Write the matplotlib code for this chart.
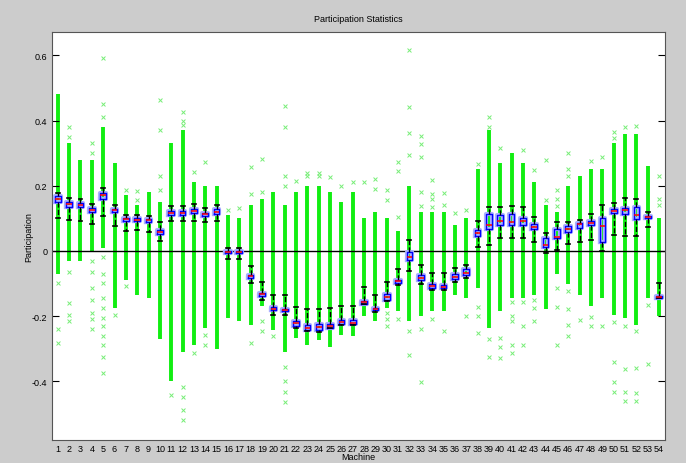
import numpy as np
import matplotlib
matplotlib.use("Agg")
import matplotlib.pyplot as plt
import matplotlib.patheffects as pe

plt.rcParams['font.family'] = ['Liberation Sans', 'DejaVu Sans']

machines = list(range(1, 55))

# box statistics per machine
medians = [0.158, 0.144, 0.142, 0.126, 0.171, 0.125, 0.097, 0.096, 0.094, 0.057,
           0.116, 0.116, 0.123, 0.113, 0.120, -0.004, -0.004, -0.078, -0.133, -0.178,
           -0.181, -0.222, -0.237, -0.234, -0.230, -0.219, -0.220, -0.158, -0.178, -0.141,
           -0.093, -0.018, -0.082, -0.108, -0.110, -0.080, -0.069, 0.055, 0.079, 0.091,
           0.088, 0.091, 0.074, 0.019, 0.044, 0.068, 0.082, 0.086, 0.077, 0.123,
           0.126, 0.109, 0.104, -0.142]
q1 = [0.149, 0.136, 0.134, 0.119, 0.160, 0.119, 0.091, 0.091, 0.089, 0.052,
      0.110, 0.110, 0.115, 0.108, 0.113, -0.008, -0.008, -0.083, -0.138, -0.183,
      -0.186, -0.230, -0.244, -0.242, -0.237, -0.224, -0.225, -0.162, -0.181, -0.150,
      -0.100, -0.028, -0.090, -0.113, -0.114, -0.085, -0.075, 0.045, 0.066, 0.079,
      0.079, 0.080, 0.067, 0.012, 0.039, 0.059, 0.071, 0.079, 0.028, 0.115,
      0.113, 0.097, 0.100, -0.145]
q3 = [0.167, 0.150, 0.148, 0.132, 0.178, 0.130, 0.101, 0.100, 0.099, 0.064,
      0.123, 0.123, 0.129, 0.117, 0.127, 0.001, 0.001, -0.073, -0.128, -0.173,
      -0.177, -0.214, -0.227, -0.225, -0.223, -0.212, -0.213, -0.153, -0.174, -0.132,
      -0.088, -0.003, -0.073, -0.103, -0.104, -0.070, -0.057, 0.064, 0.113, 0.111,
      0.113, 0.101, 0.082, 0.039, 0.067, 0.075, 0.086, 0.091, 0.100, 0.129,
      0.132, 0.134, 0.107, -0.139]
whisk_lo = [0.101, 0.095, 0.091, 0.082, 0.107, 0.077, 0.062, 0.064, 0.057, 0.029,
            0.092, 0.092, 0.091, 0.088, 0.091, -0.025, -0.026, -0.098, -0.150, -0.198,
            -0.198, -0.237, -0.247, -0.249, -0.237, -0.229, -0.229, -0.163, -0.188, -0.155,
            -0.105, -0.062, -0.103, -0.119, -0.121, -0.095, -0.082, 0.012, 0.018, 0.039,
            0.039, 0.039, 0.028, -0.008, 0.002, 0.021, 0.028, 0.033, 0.000, 0.049,
            0.045, 0.045, 0.072, -0.145]
whisk_hi = [0.178, 0.163, 0.160, 0.144, 0.194, 0.142, 0.111, 0.111, 0.108, 0.088,
            0.137, 0.137, 0.144, 0.132, 0.142, 0.008, 0.010, -0.047, -0.095, -0.134,
            -0.137, -0.171, -0.180, -0.177, -0.176, -0.168, -0.168, -0.111, -0.134, -0.096,
            -0.057, 0.033, -0.044, -0.069, -0.069, -0.052, -0.044, 0.091, 0.136, 0.136,
            0.139, 0.136, 0.105, 0.056, 0.088, 0.090, 0.096, 0.113, 0.142, 0.148,
            0.163, 0.158, 0.119, -0.100]

# dense band of green sample markers (top, bottom)
band_hi = [0.48, 0.33, 0.28, 0.28, 0.38, 0.27, 0.17, 0.14, 0.18, 0.15,
           0.33, 0.37, 0.21, 0.20, 0.20, 0.11, 0.10, 0.14, 0.16, 0.18,
           0.14, 0.18, 0.20, 0.20, 0.18, 0.15, 0.18, 0.10, 0.12, 0.10,
           0.06, 0.20, 0.12, 0.12, 0.12, 0.08, 0.10, 0.25, 0.37, 0.27,
           0.30, 0.27, 0.21, 0.14, 0.12, 0.20, 0.23, 0.25, 0.25, 0.33,
           0.36, 0.36, 0.26, 0.10]
band_lo = [-0.07, -0.03, -0.03, 0.00, 0.01, -0.175, -0.088, -0.134, -0.144, -0.27,
           -0.40, -0.31, -0.29, -0.237, -0.30, -0.206, -0.216, -0.227, -0.17, -0.242,
           -0.31, -0.268, -0.289, -0.273, -0.294, -0.258, -0.26, -0.20, -0.216, -0.175,
           -0.186, -0.216, -0.20, -0.186, -0.186, -0.134, -0.144, -0.113, -0.237, -0.186,
           -0.144, -0.144, -0.134, -0.177, -0.072, -0.103, -0.134, -0.17, -0.144, -0.196,
           -0.206, -0.227, -0.144, -0.20]

# scattered green markers outside the dense band
sparse = {
    1: [-0.098, -0.24, -0.283],
    2: [0.379, 0.35, -0.064, -0.16, -0.196, -0.216],
    4: [0.33, 0.30, -0.03, -0.064, -0.113, -0.152, -0.19, -0.21, -0.24],
    5: [0.593, 0.45, 0.41, -0.02, -0.07, -0.10, -0.144, -0.175, -0.206, -0.23,
        -0.26, -0.29, -0.325, -0.376],
    6: [-0.198],
    7: [0.188, -0.108],
    8: [0.183, 0.157],
    10: [0.462, 0.371, 0.229, 0.188],
    11: [-0.443],
    12: [0.425, 0.40, 0.387, -0.417, -0.45, -0.49, -0.52],
    13: [0.242, -0.314],
    14: [0.273, -0.258, -0.289],
    16: [0.124],
    17: [0.131],
    18: [0.256, 0.175, -0.284],
    19: [0.282, 0.18, -0.216, -0.247],
    20: [-0.26],
    21: [0.445, 0.381, 0.229, 0.20, -0.356, -0.40, -0.433, -0.464],
    22: [0.213],
    23: [0.24, 0.23],
    24: [0.24, 0.23],
    25: [0.227],
    26: [0.20],
    27: [0.21],
    28: [0.21],
    29: [0.222, 0.19],
    30: [0.188, 0.155, -0.19, -0.21, -0.23],
    31: [0.273, 0.245, 0.103, -0.208],
    32: [0.616, 0.443, 0.361, 0.294, -0.247, -0.32],
    33: [0.353, 0.327, 0.287, 0.18, 0.139, -0.24, -0.402],
    34: [0.218, 0.175, 0.16, 0.134, -0.208],
    35: [0.177, 0.142, -0.245],
    36: [0.115],
    37: [0.126, -0.199],
    38: [0.268, -0.173, -0.2, -0.253],
    39: [0.41, 0.381, -0.27, -0.325],
    40: [0.316, -0.268, -0.294, -0.328],
    41: [-0.157, -0.20, -0.216, -0.29, -0.314],
    42: [0.311, -0.157, -0.232, -0.289],
    43: [0.249, -0.15, -0.175, -0.214],
    44: [0.278, 0.157],
    45: [0.186, 0.16, 0.139, -0.115, -0.171, -0.289],
    46: [0.301, 0.25, 0.23, -0.123, -0.18, -0.227, -0.26],
    47: [-0.211],
    48: [0.276, -0.204, -0.232],
    49: [0.287, -0.23],
    50: [0.366, 0.345, -0.218, -0.34, -0.402, -0.433],
    51: [0.379, -0.232, -0.363, -0.433, -0.462],
    52: [0.383, -0.245, -0.36, -0.435, -0.462],
    53: [-0.167, -0.348],
    54: [0.229, 0.16, 0.14],
}

fig = plt.figure(figsize=(6.86, 4.64), dpi=100, facecolor='#cccccc')
ax = fig.add_axes([0.076, 0.05, 0.893, 0.879])
ax.set_facecolor('white')

# green sample columns
ax.vlines(machines, band_lo, band_hi, color='#11ee11', lw=2.8, zorder=1)
for m, vals in sparse.items():
    ax.scatter([m] * len(vals), vals, marker='x', s=8, lw=0.7,
               color='#77ee77', zorder=1)

ax.axhline(0, color='black', lw=1, zorder=2)

stats = []
for i in range(len(machines)):
    stats.append({'med': medians[i], 'q1': q1[i], 'q3': q3[i],
                  'whislo': whisk_lo[i], 'whishi': whisk_hi[i], 'fliers': []})

halo = [pe.withStroke(linewidth=3, foreground='#aab0ff')]
ax.bxp(stats, positions=machines, widths=0.5, showfliers=False,
       patch_artist=False, manage_ticks=False, zorder=3,
       boxprops=dict(color='#0000ff', lw=1, path_effects=halo),
       medianprops=dict(color='#ff0000', lw=1.1),
       whiskerprops=dict(color='black', lw=1, ls='--'),
       capprops=dict(color='black', lw=1.2),
       capwidths=0.35)

ax.set_xlim(0.5, 54.5)
ax.set_ylim(-0.58, 0.672)
ax.set_xticks(machines)
ax.set_xticklabels([str(m) for m in machines], fontsize=6.5)
ax.set_yticks([-0.4, -0.2, 0, 0.2, 0.4, 0.6])
ax.set_yticklabels(['-0.4', '-0.2', '0', '0.2', '0.4', '0.6'], fontsize=6.5)
ax.tick_params(axis='x', length=0, pad=3)
ax.tick_params(axis='y', direction='in', length=5, right=True, width=0.8)
for s in ax.spines.values():
    s.set_color('#555555')
    s.set_linewidth(0.8)

ax.set_title('Participation Statistics', fontsize=6.5, pad=8)
ax.set_xlabel('Machine', fontsize=6.5, labelpad=-1)
ax.set_ylabel('Participation', fontsize=6.5, labelpad=-1)

fig.savefig('out.png', dpi=100, facecolor=fig.get_facecolor())
